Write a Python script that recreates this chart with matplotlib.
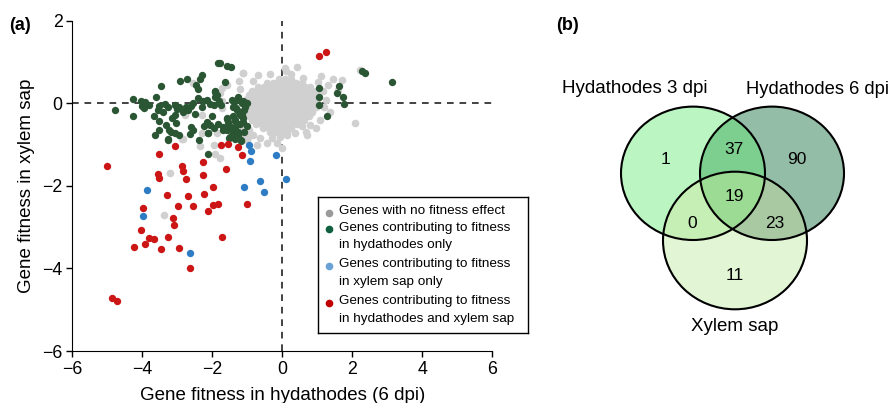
import numpy as np
import matplotlib
matplotlib.use("Agg")
import matplotlib.pyplot as plt
from matplotlib.patches import Ellipse
from matplotlib.colors import to_rgba

plt.rcParams['font.family'] = ['Liberation Sans', 'DejaVu Sans']

# ---- panel (a) data: (hydathodes 6 dpi, xylem sap) ----
red_pts = [(1.06, 1.15), (1.25, 1.24), (-5.02, -1.53), (-3.07, -1.03), (-3.51, -1.23),
           (-1.76, -1.0), (-1.54, -0.99), (-1.26, -1.07), (-1.16, -1.25), (-2.26, -1.43),
           (-2.87, -1.51), (-2.83, -1.63), (-3.54, -1.71), (-3.53, -1.82), (-2.75, -1.84),
           (-2.27, -1.73), (-1.62, -1.59), (-1.97, -2.03), (-3.29, -2.23), (-2.69, -2.25),
           (-2.25, -2.19), (-3.99, -2.54), (-2.98, -2.48), (-2.55, -2.49), (-1.98, -2.47),
           (-1.84, -2.45), (-2.11, -2.62), (-1.02, -2.45), (-3.13, -2.78), (-3.09, -2.96),
           (-4.05, -3.08), (-3.80, -3.27), (-3.66, -3.29), (-3.26, -3.24), (-3.91, -3.41),
           (-4.25, -3.49), (-3.46, -3.54), (-2.96, -3.51), (-1.71, -3.25), (-2.63, -3.98),
           (-4.86, -4.71), (-4.73, -4.78)]

blue_pts = [(-0.95, -1.01), (-0.89, -1.16), (-0.91, -1.39), (-0.18, -1.25), (0.10, -1.84),
            (-0.65, -1.88), (-1.09, -2.03), (-0.51, -2.15), (-3.86, -2.11), (-3.98, -2.72),
            (-2.64, -3.62)]

green_pts = [(-1.83, 0.97), (-1.78, 0.97), (-1.59, 0.90), (-1.46, 0.87),
             (-2.93, 0.55), (-2.72, 0.59), (-2.30, 0.68), (-2.35, 0.58), (-3.47, 0.41),
             (-2.47, 0.44), (-2.41, 0.34), (-1.65, 0.52), (-1.93, 0.28), (-1.92, 0.16),
             (-1.87, 0.20), (-4.27, 0.10), (-4.78, -0.17), (-4.27, -0.32),
             (-4.04, 0.06), (-3.92, 0.04), (-4.02, -0.07), (-3.95, -0.12), (-3.61, 0.14),
             (-3.53, -0.07), (-3.56, -0.16), (-3.66, -0.32), (-3.53, -0.43), (-3.53, -0.65),
             (-3.65, -0.76), (-3.34, -0.02), (-3.26, -0.08), (-3.07, -0.05), (-3.0, -0.15),
             (-3.06, -0.28), (-2.95, -0.08), (-3.31, -0.53), (-3.24, -0.65), (-3.05, -0.48),
             (-3.18, -0.69), (-3.07, -0.73), (-2.96, -0.76), (-3.27, -0.87),
             (-2.76, -0.08), (-2.61, -0.07), (-2.69, -0.16), (-2.56, 0.0),
             (-2.42, 0.13), (-2.26, 0.06), (-2.15, 0.08), (-2.29, -0.08), (-2.07, -0.02),
             (-1.94, -0.04), (-2.62, -0.57), (-2.55, -0.65), (-2.64, -0.74), (-2.39, -0.90),
             (-2.15, -0.45), (-2.07, -0.53), (-1.94, -0.60), (-2.12, -0.73), (-2.12, -1.24),
             (-1.58, -0.38), (-1.69, -0.57), (-1.59, -0.65), (-1.47, -0.57), (-1.42, -0.73),
             (-1.49, -0.81), (-1.36, -0.87), (-1.19, -0.89),
             (-1.45, 0.08), (-1.40, -0.08), (-1.26, 0.08), (-1.30, -0.16), (-1.16, 0.0),
             (-1.09, -0.16), (-1.21, -0.28), (-1.13, -0.36), (-1.35, -0.40), (-1.21, -0.50),
             (-1.09, 0.04), (-1.02, 0.0),
             (1.05, 0.36), (1.06, 0.16), (1.05, -0.03), (1.27, -0.31), (1.63, 0.42),
             (1.55, 0.24), (1.73, 0.14), (1.76, -0.01), (2.28, 0.78), (2.35, 0.74), (3.12, 0.52),
             (-1.38, 0.04), (-1.26, 0.14), (-1.11, 0.06), (-1.07, -0.08), (-1.32, -0.12),
             (-1.16, -0.28), (-1.35, -0.43), (-1.59, -0.35), (-1.57, -0.57), (-1.35, -0.61),
             (-1.26, -0.69), (-1.45, -0.77), (-1.51, -0.85), (-1.35, -0.85), (-1.19, -0.91),
             (-1.75, -0.04), (-1.70, -0.65), (-1.92, 0.30), (-3.26, -0.89), (-2.13, -0.73),
             (-1.25, -0.22), (-1.42, -0.30), (-1.30, -0.50), (-1.12, -0.45), (-1.55, -0.45),
             (-1.40, -0.65), (-1.28, -0.78), (-2.85, -0.20), (-3.15, -0.35), (-3.40, -0.20),
             (-2.50, -0.25), (-2.00, -0.30), (-1.85, -0.50), (-3.80, -0.05), (-1.02, -0.55),
             (-1.10, -0.70), (-2.25, -0.55), (-1.80, 0.05)]

# dense cloud of genes without effect, read row by row (y: x values)
gray_rows = [
    (0.60, [-0.10, 0.08, 0.26]),
    (0.50, [-0.45, -0.28, -0.11, 0.06, 0.23, 0.40, 0.55]),
    (0.40, [-0.70, -0.53, -0.36, -0.19, -0.02, 0.15, 0.32, 0.49, 0.66, 0.80]),
    (0.30, [-0.88, -0.71, -0.54, -0.37, -0.20, -0.03, 0.14, 0.31, 0.48, 0.65, 0.82, 0.95]),
    (0.20, [-0.96, -0.79, -0.62, -0.45, -0.28, -0.11, 0.06, 0.23, 0.40, 0.57, 0.74, 0.91, 1.00]),
    (0.10, [-1.02, -0.87, -0.70, -0.53, -0.36, -0.19, -0.02, 0.15, 0.32, 0.49, 0.66, 0.83, 0.98]),
    (0.00, [-1.05, -0.88, -0.71, -0.54, -0.37, -0.20, -0.03, 0.14, 0.31, 0.48, 0.65, 0.82, 0.98]),
    (-0.10, [-1.04, -0.87, -0.70, -0.53, -0.36, -0.19, -0.02, 0.15, 0.32, 0.49, 0.66, 0.83, 0.95]),
    (-0.20, [-1.00, -0.83, -0.66, -0.49, -0.32, -0.15, 0.02, 0.19, 0.36, 0.53, 0.70, 0.86]),
    (-0.30, [-0.95, -0.78, -0.61, -0.44, -0.27, -0.10, 0.07, 0.24, 0.41, 0.58, 0.75]),
    (-0.40, [-0.88, -0.71, -0.54, -0.37, -0.20, -0.03, 0.14, 0.31, 0.48, 0.62]),
    (-0.50, [-0.75, -0.58, -0.41, -0.24, -0.07, 0.10, 0.27, 0.42]),
    (-0.60, [-0.55, -0.38, -0.21, -0.04, 0.13, 0.26]),
    (-0.70, [-0.36, -0.19, -0.02, 0.12]),
]
gray_extra = [(-1.11, 0.73), (0.08, 0.85), (0.41, 0.89), (0.10, 0.78), (-0.69, 0.69), (1.03, 0.52),
              (1.25, 0.08), (1.36, -0.20), (1.08, -0.40), (0.79, -0.53), (0.55, -0.55), (0.68, -0.69),
              (0.71, -0.77), (2.08, -0.48), (0.13, -0.77), (-0.07, -0.81), (-0.16, -0.97), (-0.02, -1.09),
              (-0.45, -0.97), (-0.64, -0.85), (-0.83, -0.77), (-0.97, -0.81), (-1.73, 0.36), (1.46, 0.60),
              (1.70, 0.56), (1.58, 0.32), (2.22, 0.81), (-1.13, 0.74), (-2.54, 0.48), (-1.78, 0.24),
              (-1.71, 0.06), (-1.73, -0.12), (-2.78, -0.28), (-2.30, -0.28), (-2.83, -0.87), (-2.35, -1.03),
              (-1.95, -1.01), (-1.91, -1.23), (-1.78, -1.33), (-3.21, -1.70), (-1.49, -0.40), (-1.11, -0.73),
              (-1.02, -0.89), (-0.73, -1.01), (-1.87, -0.73), (-1.59, 0.44), (-3.37, -2.70), (-2.86, -0.87),
              (-2.30, -0.73), (1.15, 0.30), (1.20, -0.10), (1.10, 0.65), (-0.35, 0.72), (0.25, 0.70),
              (0.60, 0.62), (-0.85, 0.55), (-1.20, 0.35), (-1.25, 0.55), (1.30, 0.45), (0.95, -0.60),
              (0.35, -0.72), (-0.30, -0.85), (-1.20, -0.60), (-0.95, -0.65)]

legend_labels = ['Genes with no fitness effect',
                 'Genes contributing to fitness\nin hydathodes only',
                 'Genes contributing to fitness\nin xylem sap only',
                 'Genes contributing to fitness\nin hydathodes and xylem sap']
legend_colors = ['#9a9a9a', '#0e5f3e', '#6aa2d6', '#c00000']

# ---- panel (b) data ----
venn_names = ['Hydathodes 3 dpi', 'Hydathodes 6 dpi', 'Xylem sap']
venn_counts = {'A': 1, 'AB': 37, 'B': 90, 'ABC': 19, 'AC': 0, 'BC': 23, 'C': 11}

fig = plt.figure(figsize=(8.93, 4.03), dpi=100)
W, H = 893.0, 403.0

ax = fig.add_axes([72.3 / W, 1 - 351 / H, 420 / W, 330.3 / H])
ax.axhline(0, color='#222222', lw=1.2, ls=(0, (4, 3.5)), zorder=1)
ax.axvline(0, color='#222222', lw=1.2, ls=(0, (4, 3.5)), zorder=1)

gx = [x for y, xs in gray_rows for x in xs] + [p[0] for p in gray_extra]
gy = [y for y, xs in gray_rows for x in xs] + [p[1] for p in gray_extra]
ax.scatter(gx, gy, s=30, color='#d0d0d0', lw=0, zorder=2)
for pts, c in [(green_pts, '#2a5633'), (blue_pts, '#2e7cc4'), (red_pts, '#cc1515')]:
    ax.scatter([p[0] for p in pts], [p[1] for p in pts], s=28, color=c, lw=0, zorder=3)

ax.set_xlim(-6, 6)
ax.set_ylim(-6, 2)
ax.set_xticks([-6, -4, -2, 0, 2, 4, 6])
ax.set_yticks([-6, -4, -2, 0, 2])
ax.spines['top'].set_visible(False)
ax.spines['right'].set_visible(False)
ax.tick_params(direction='out', length=4, width=1, labelsize=12.8, pad=3)
ax.set_xlabel('Gene fitness in hydathodes (6 dpi)', fontsize=13.5, labelpad=7)
ax.set_ylabel('Gene fitness in xylem sap', fontsize=13.5, labelpad=5)

# legend box drawn by hand so markers sit on first text line
lg = fig.add_axes([318 / W, 1 - 333 / H, 210 / W, 136 / H])
lg.set_xlim(318, 528)
lg.set_ylim(333, 197)
lg.set_xticks([])
lg.set_yticks([])
for s in lg.spines.values():
    s.set_linewidth(1.0)
marker_y = [212.7, 229.3, 266, 302.7]
for lab, c, my in zip(legend_labels, legend_colors, marker_y):
    lg.plot(329, my, 'o', ms=5.5, color=c, mec='none')
    lg.text(339.5, my - 7.5, lab, fontsize=9.7, va='top', ha='left', linespacing=1.6)

# ---- venn ----
vx = fig.add_axes([540 / W, 0, 353 / W, 1])
vx.set_xlim(540, 893)
vx.set_ylim(403, 0)
vx.axis('off')

circles = {'A': (693, 173.3, 72, 66.7), 'B': (772, 173.3, 72, 66.7), 'C': (735, 240.5, 72, 68.8)}
region_colors = {'A': '#bcf5c1', 'B': '#94bda8', 'C': '#e2f5d5', 'AB': '#7dcf8e',
                 'AC': '#c5f0b5', 'BC': '#a8c9a2', 'ABC': '#9ddb93'}
xs = np.arange(600, 870, 0.5)
ys = np.arange(95, 320, 0.5)
X, Y = np.meshgrid(xs, ys)
masks = {k: ((X - cx) / rx) ** 2 + ((Y - cy) / ry) ** 2 <= 1 for k, (cx, cy, rx, ry) in circles.items()}
img = np.zeros(X.shape + (4,))
for key, col in region_colors.items():
    m = np.ones(X.shape, bool)
    for k in 'ABC':
        m &= masks[k] if k in key else ~masks[k]
    img[m] = to_rgba(col)
vx.imshow(img, extent=(600, 870, 320, 95), origin='upper', interpolation='bilinear', zorder=1)
for k, (cx, cy, rx, ry) in circles.items():
    vx.add_patch(Ellipse((cx, cy), 2 * rx, 2 * ry, fill=False, ec='black', lw=1.5, zorder=2))

count_pos = {'A': (666, 159.3), 'AB': (734.3, 150), 'B': (797.3, 159.3), 'ABC': (734.3, 196.7),
             'AC': (691.7, 223.3), 'BC': (774.3, 223.3), 'C': (735, 275)}
for k, n in venn_counts.items():
    vx.text(count_pos[k][0], count_pos[k][1], str(n), fontsize=12.5, ha='center', va='center', zorder=3)
vx.text(634.7, 88.3, venn_names[0], fontsize=13.5, ha='center', va='center')
vx.text(889, 89.5, venn_names[1], fontsize=13.2, ha='right', va='center')
vx.text(735, 326.7, venn_names[2], fontsize=13.5, ha='center', va='center')

fig.text(9 / W, 1 - 25 / H, '(a)', fontsize=13, fontweight='bold', ha='left', va='center')
fig.text(556 / W, 1 - 25 / H, '(b)', fontsize=13, fontweight='bold', ha='left', va='center')

fig.savefig('out.png', dpi=100)
